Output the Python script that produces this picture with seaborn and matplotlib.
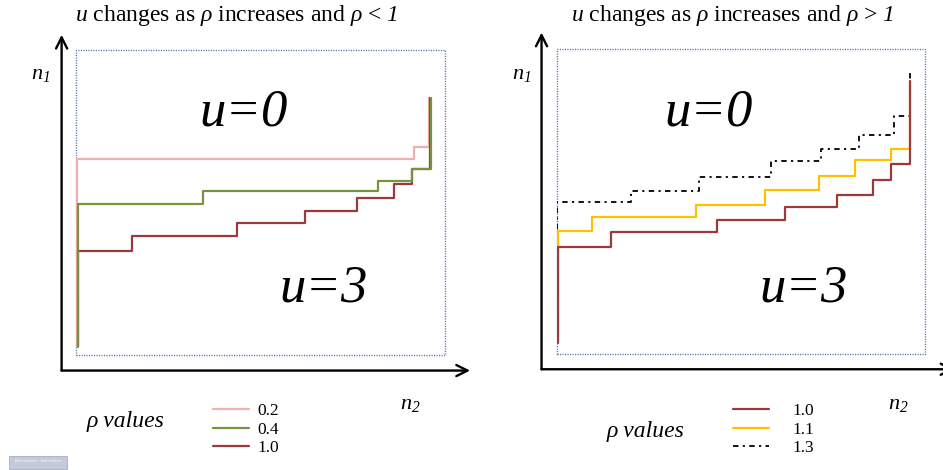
import numpy as np
import pandas as pd
import matplotlib
matplotlib.use("Agg")
import matplotlib.pyplot as plt
from matplotlib.patches import Rectangle
import seaborn as sns

# ---------------- data (box units: 0..100 on both axes) ----------------
# Left panel: rho < 1
left_labels = ["0.2", "0.4", "1.0"]
left_n2_02 = [0.3, 91.6, 95.7]
left_n1_02 = [3.0, 64.3, 68.3, 84.3]
left_n2_04 = [0.5, 34.3, 81.8, 91.1, 96.1]
left_n1_04 = [2.7, 49.5, 53.7, 57.1, 60.9, 84.2]
left_n2_10 = [0.5, 15.1, 43.6, 62.1, 76.2, 86.2, 91.0, 96.0]
left_n1_10 = [3.0, 34.2, 38.9, 43.2, 47.2, 51.4, 56.1, 61.0, 84.3]

# Right panel: rho > 1
right_labels = ["1.0", "1.1", "1.3"]
right_n2_10 = [0.2, 14.7, 43.4, 62.0, 76.0, 85.9, 90.8, 96.0]
right_n1_10 = [3.5, 35.0, 39.9, 43.9, 48.1, 52.1, 57.0, 62.2, 89.5]
right_n2_11 = [0.2, 9.4, 37.7, 56.6, 71.3, 80.9, 90.8, 95.8]
right_n1_11 = [3.5, 40.4, 44.8, 49.0, 53.7, 58.2, 63.5, 67.3, 89.5]
right_n2_13 = [0.0, 20.2, 38.5, 58.1, 71.8, 82.1, 91.7, 95.9]
right_n1_13 = [3.5, 49.9, 53.6, 58.1, 63.4, 67.2, 71.9, 78.1, 92.0]

# ---------------- style ----------------
sns.set_style("white")
plt.rcParams["font.family"] = ["Liberation Serif", "DejaVu Serif"]
plt.rcParams["text.color"] = "black"
plt.rcParams["mathtext.fontset"] = "custom"
plt.rcParams["mathtext.rm"] = "Liberation Serif"
plt.rcParams["mathtext.it"] = "Liberation Serif:italic"
# italic digits via \mathbf (the 'it' slot maps digits to upright)
plt.rcParams["mathtext.bf"] = "Liberation Serif:italic"

W, H = 943, 470
fig = plt.figure(figsize=(W / 100, H / 100), dpi=100)


def fx(x):
    return x / W


def fy(y):
    return 1 - y / H


def make_df(n2, n1, label):
    xs = [n2[0]] + list(n2)
    return pd.DataFrame({"n2": xs, "n1": n1, "rho": label})


def step(ax, n2, n1, label, color, ls="-", lw=1.6):
    df = make_df(n2, n1, label)
    sns.lineplot(data=df, x="n2", y="n1", ax=ax, estimator=None, sort=False,
                 drawstyle="steps-post", color=color, linestyle=ls,
                 linewidth=lw, label=label)


def setup_box(ax):
    ax.set_xlim(0, 100)
    ax.set_ylim(0, 100)
    ax.set_xticks([])
    ax.set_yticks([])
    ax.set_xlabel("")
    ax.set_ylabel("")
    for s in ax.spines.values():
        s.set_visible(False)
    ax.add_patch(Rectangle((0, 0), 1, 1, transform=ax.transAxes,
                           fill=False, edgecolor="#4f74ad", lw=1.0,
                           linestyle=(0, (0.8, 1.0)), clip_on=False, zorder=1))


def arrows(ax, x0, y0, xtop, xright):
    kw = dict(arrowstyle="->", lw=1.7, color="black", mutation_scale=20,
              shrinkA=0, shrinkB=0)
    ax.annotate("", xy=(x0, xtop), xytext=(x0, y0), xycoords="data",
                arrowprops=kw, annotation_clip=False)
    ax.annotate("", xy=(xright, y0), xytext=(x0, y0), xycoords="data",
                arrowprops=kw, annotation_clip=False)


PINK = "#eeb0b0"
GREEN = "#77933c"
RED = "#9b3a3a"
YELLOW = "#ffc000"

# ---------------- left panel ----------------
axL = fig.add_axes([fx(76), fy(355), (445 - 76) / W, 305 / H])
step(axL, left_n2_02, left_n1_02, left_labels[0], PINK)
step(axL, left_n2_10, left_n1_10, left_labels[2], RED)
step(axL, left_n2_04, left_n1_04, left_labels[1], GREEN)
setup_box(axL)
arrows(axL, -3.9, -5.1, 105.0, 106.8)
hL = {l.get_label(): l for l in axL.get_lines()}
if axL.get_legend():
    axL.get_legend().remove()

# ---------------- right panel ----------------
axR = fig.add_axes([fx(557), fy(354), (925 - 557) / W, 305 / H])
step(axR, right_n2_13, right_n1_13, right_labels[2], "black", ls=(0, (3, 2.4, 1.2, 2.4)), lw=1.3)
step(axR, right_n2_11, right_n1_11, right_labels[1], YELLOW)
step(axR, right_n2_10, right_n1_10, right_labels[0], RED)
setup_box(axR)
arrows(axR, -4.2, -5.0, 105.4, 108.0)
hR = {l.get_label(): l for l in axR.get_lines()}
if axR.get_legend():
    axR.get_legend().remove()

# ---------------- texts ----------------
title_kw = dict(fontsize=17, ha="center", va="center")
fig.text(fx(236.7), fy(15), r"$u$ changes as $\rho$ increases and $\rho$ < $\mathbf{1}$", **title_kw)
fig.text(fx(732), fy(15), r"$u$ changes as $\rho$ increases and $\rho$ > $\mathbf{1}$", **title_kw)

big_kw = dict(fontsize=38, style="italic", ha="center", va="center")
fig.text(fx(244), fy(113), "u=0", **big_kw)
fig.text(fx(324), fy(289), "u=3", **big_kw)
fig.text(fx(709), fy(113), "u=0", **big_kw)
fig.text(fx(804), fy(289), "u=3", **big_kw)

n_kw = dict(fontsize=16, ha="center", va="center")
fig.text(fx(41), fy(74), r"$n_{\mathbf{1}}$", **n_kw)
fig.text(fx(410), fy(404), r"$n_{\mathbf{2}}$", **n_kw)
fig.text(fx(522), fy(74), r"$n_{\mathbf{1}}$", **n_kw)
fig.text(fx(898), fy(404), r"$n_{\mathbf{2}}$", **n_kw)

rv_kw = dict(fontsize=17, style="italic", ha="center", va="center")
fig.text(fx(126), fy(422), "ρ values", **rv_kw)
fig.text(fx(646), fy(432), "ρ values", **rv_kw)

# ---------------- legends ----------------
leg_kw = dict(loc="upper left", frameon=False, fontsize=12.5, borderpad=0,
              borderaxespad=0, labelspacing=0.145, handlelength=2.05)
fig.legend([hL[k] for k in left_labels], left_labels,
           bbox_to_anchor=(fx(213), fy(403)), handletextpad=0.5, **leg_kw)
fig.legend([hR[k] for k in right_labels], right_labels,
           bbox_to_anchor=(fx(733), fy(403)), handletextpad=1.4, **leg_kw)

# small watermark artifact
fig.patches.append(Rectangle((fx(9), fy(469)), (67 - 9) / W, 13 / H,
                             transform=fig.transFigure, facecolor="#c5cadb",
                             edgecolor="#9aa3bf", lw=0.5))
fig.text(fx(38), fy(461), "BizConverter - trial version", fontsize=3,
         color="white", ha="center", va="center")

fig.savefig("out.png", dpi=100)
